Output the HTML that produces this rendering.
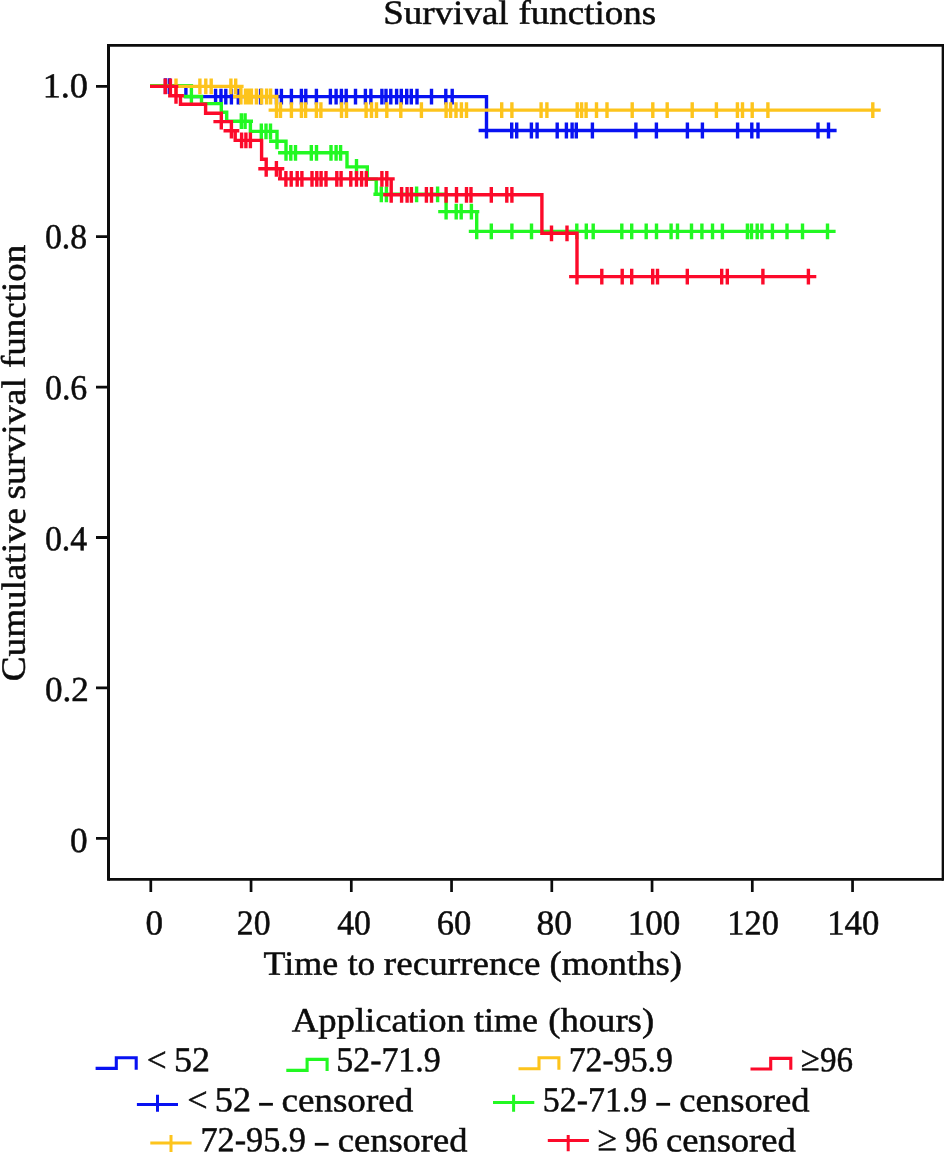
<!DOCTYPE html>
<html><head><meta charset="utf-8"><title>Survival functions</title>
<style>html,body{margin:0;padding:0;background:#fff;}body{width:944px;height:1152px;overflow:hidden;position:relative;font-family:"Liberation Serif",serif;}</style>
</head><body>
<svg width="944" height="1152" viewBox="0 0 944 1152" style="position:absolute;left:0;top:0;display:block">
<rect x="0" y="0" width="944" height="1152" fill="#ffffff"/>
<g fill="none" stroke="#0c0c0c" stroke-linecap="butt">
<path d="M108.5,43.95V880.85M943.15,43.95V880.85" stroke-width="3"/>
<path d="M108.5,45.35H943.15" stroke-width="2.8"/>
<path d="M108.5,879.4H943.15" stroke-width="2.9"/>
<path d="M96,86.3H108.5M96,236.7H108.5M96,387.1H108.5M96,537.5H108.5M96,687.9H108.5M96,838.3H108.5" stroke-width="2.8"/>
<path d="M150.8,879.4V892.1M251.05,879.4V892.1M351.3,879.4V892.1M451.55,879.4V892.1M551.8,879.4V892.1M652.05,879.4V892.1M752.3,879.4V892.1M852.55,879.4V892.1" stroke-width="2.7"/>
</g>
<g fill="none" stroke="#0812f2" stroke-width="3.4" stroke-linejoin="miter" stroke-linecap="butt"><path d="M150,86.2 L185.9,86.2 L185.9,96.6 L486.5,96.6 L486.5,130.5 L836.6,130.5M165.5,78.3V94.1M157.6,86.2H173.4M169.5,78.3V94.1M161.6,86.2H177.4M215.6,88.7V104.5M207.7,96.6H223.5M221,88.7V104.5M213.1,96.6H228.9M225.8,88.7V104.5M217.9,96.6H233.7M231.4,88.7V104.5M223.5,96.6H239.3M238.3,88.7V104.5M230.4,96.6H246.2M260.6,88.7V104.5M252.7,96.6H268.5M276.5,88.7V104.5M268.6,96.6H284.4M281.4,88.7V104.5M273.5,96.6H289.3M291.4,88.7V104.5M283.5,96.6H299.3M301.4,88.7V104.5M293.5,96.6H309.3M305.8,88.7V104.5M297.9,96.6H313.7M316.4,88.7V104.5M308.5,96.6H324.3M330.4,88.7V104.5M322.5,96.6H338.3M336.1,88.7V104.5M328.2,96.6H344M341.4,88.7V104.5M333.5,96.6H349.3M346.2,88.7V104.5M338.3,96.6H354.1M355.5,88.7V104.5M347.6,96.6H363.4M365.4,88.7V104.5M357.5,96.6H373.3M370.9,88.7V104.5M363,96.6H378.8M381.9,88.7V104.5M374,96.6H389.8M386,88.7V104.5M378.1,96.6H393.9M390.8,88.7V104.5M382.9,96.6H398.7M396.6,88.7V104.5M388.7,96.6H404.5M401.3,88.7V104.5M393.4,96.6H409.2M406.7,88.7V104.5M398.8,96.6H414.6M411.3,88.7V104.5M403.4,96.6H419.2M417,88.7V104.5M409.1,96.6H424.9M431.5,88.7V104.5M423.6,96.6H439.4M445.8,88.7V104.5M437.9,96.6H453.7M452.2,88.7V104.5M444.3,96.6H460.1M486.5,122.6V138.4M478.6,130.5H494.4M511.7,122.6V138.4M503.8,130.5H519.6M516.7,122.6V138.4M508.8,130.5H524.6M531.4,122.6V138.4M523.5,130.5H539.3M537.1,122.6V138.4M529.2,130.5H545M557.2,122.6V138.4M549.3,130.5H565.1M566.4,122.6V138.4M558.5,130.5H574.3M572.1,122.6V138.4M564.2,130.5H580M576.3,122.6V138.4M568.4,130.5H584.2M592.4,122.6V138.4M584.5,130.5H600.3M635.9,122.6V138.4M628,130.5H643.8M656.4,122.6V138.4M648.5,130.5H664.3M687.4,122.6V138.4M679.5,130.5H695.3M702.4,122.6V138.4M694.5,130.5H710.3M737.6,122.6V138.4M729.7,130.5H745.5M751.8,122.6V138.4M743.9,130.5H759.7M758,122.6V138.4M750.1,130.5H765.9M818,122.6V138.4M810.1,130.5H825.9M828.5,122.6V138.4M820.6,130.5H836.4"/></g>
<g fill="none" stroke="#22f822" stroke-width="3.4" stroke-linejoin="miter" stroke-linecap="butt"><path d="M150,85.6 L191.4,85.6 L191.4,96.5 L201.5,96.5 L201.5,103.6 L221.3,103.6 L221.3,112.3 L226.7,112.3 L226.7,121.2 L250.4,121.2 L250.4,131.4 L277,131.4 L277,141.3 L286,141.3 L286,152.8 L347,152.8 L347,166.9 L367.3,166.9 L367.3,179.3 L376.2,179.3 L376.2,194.3 L446.1,194.3 L446.1,211.6 L476.7,211.6 L476.7,231.4 L835.6,231.4M191.4,88.6V104.4M183.5,96.5H199.3M241.3,113.3V129.1M233.4,121.2H249.2M245.1,113.3V129.1M237.2,121.2H253M261.3,123.5V139.3M253.4,131.4H269.2M266,123.5V139.3M258.1,131.4H273.9M270.5,123.5V139.3M262.6,131.4H278.4M277,133.4V149.2M269.1,141.3H284.9M286,144.9V160.7M278.1,152.8H293.9M290.8,144.9V160.7M282.9,152.8H298.7M295.5,144.9V160.7M287.6,152.8H303.4M311.3,144.9V160.7M303.4,152.8H319.2M316.5,144.9V160.7M308.6,152.8H324.4M331,144.9V160.7M323.1,152.8H338.9M336.1,144.9V160.7M328.2,152.8H344M340.6,144.9V160.7M332.7,152.8H348.5M356.5,159V174.8M348.6,166.9H364.4M381.3,186.4V202.2M373.4,194.3H389.2M386.4,186.4V202.2M378.5,194.3H394.3M416.6,186.4V202.2M408.7,194.3H424.5M437.6,186.4V202.2M429.7,194.3H445.5M446.1,203.7V219.5M438.2,211.6H454M456.2,203.7V219.5M448.3,211.6H464.1M461.2,203.7V219.5M453.3,211.6H469.1M471.4,203.7V219.5M463.5,211.6H479.3M476.7,223.5V239.3M468.8,231.4H484.6M491.3,223.5V239.3M483.4,231.4H499.2M511.9,223.5V239.3M504,231.4H519.8M531.5,223.5V239.3M523.6,231.4H539.4M576.8,223.5V239.3M568.9,231.4H584.7M586.3,223.5V239.3M578.4,231.4H594.2M593.2,223.5V239.3M585.3,231.4H601.1M621.8,223.5V239.3M613.9,231.4H629.7M631.7,223.5V239.3M623.8,231.4H639.6M646.2,223.5V239.3M638.3,231.4H654.1M656.5,223.5V239.3M648.6,231.4H664.4M671.1,223.5V239.3M663.2,231.4H679M677.5,223.5V239.3M669.6,231.4H685.4M691.5,223.5V239.3M683.6,231.4H699.4M701.9,223.5V239.3M694,231.4H709.8M712.5,223.5V239.3M704.6,231.4H720.4M722.4,223.5V239.3M714.5,231.4H730.3M747.4,223.5V239.3M739.5,231.4H755.3M751.5,223.5V239.3M743.6,231.4H759.4M757.2,223.5V239.3M749.3,231.4H765.1M761.9,223.5V239.3M754,231.4H769.8M772.4,223.5V239.3M764.5,231.4H780.3M787,223.5V239.3M779.1,231.4H794.9M802.5,223.5V239.3M794.6,231.4H810.4M827.5,223.5V239.3M819.6,231.4H835.4"/></g>
<g fill="none" stroke="#fdc41c" stroke-width="3.4" stroke-linejoin="miter" stroke-linecap="butt"><path d="M150,86.4 L240.9,86.4 L240.9,96.5 L276.5,96.5 L276.5,110.1 L880.7,110.1M176,78.5V94.3M168.1,86.4H183.9M199.9,78.5V94.3M192,86.4H207.8M205.8,78.5V94.3M197.9,86.4H213.7M211.2,78.5V94.3M203.3,86.4H219.1M230.9,78.5V94.3M223,86.4H238.8M235.7,78.5V94.3M227.8,86.4H243.6M240.9,88.6V104.4M233,96.5H248.8M245.5,88.6V104.4M237.6,96.5H253.4M247.5,88.6V104.4M239.6,96.5H255.4M249.4,88.6V104.4M241.5,96.5H257.3M251.4,88.6V104.4M243.5,96.5H259.3M256.4,88.6V104.4M248.5,96.5H264.3M261.6,88.6V104.4M253.7,96.5H269.5M266.6,88.6V104.4M258.7,96.5H274.5M270.6,88.6V104.4M262.7,96.5H278.5M276.5,102.2V118M268.6,110.1H284.4M280.5,102.2V118M272.6,110.1H288.4M291.4,102.2V118M283.5,110.1H299.3M301.4,102.2V118M293.5,110.1H309.3M305.6,102.2V118M297.7,110.1H313.5M316.4,102.2V118M308.5,110.1H324.3M320.9,102.2V118M313,110.1H328.8M341.5,102.2V118M333.6,110.1H349.4M346.5,102.2V118M338.6,110.1H354.4M366.1,102.2V118M358.2,110.1H374M371.5,102.2V118M363.6,110.1H379.4M376.5,102.2V118M368.6,110.1H384.4M386.8,102.2V118M378.9,110.1H394.7M400.8,102.2V118M392.9,110.1H408.7M421.4,102.2V118M413.5,110.1H429.3M446.1,102.2V118M438.2,110.1H454M450.6,102.2V118M442.7,110.1H458.5M456,102.2V118M448.1,110.1H463.9M461.4,102.2V118M453.5,110.1H469.3M466.5,102.2V118M458.6,110.1H474.4M501.7,102.2V118M493.8,110.1H509.6M511.9,102.2V118M504,110.1H519.8M541.1,102.2V118M533.2,110.1H549M546.9,102.2V118M539,110.1H554.8M577.2,102.2V118M569.3,110.1H585.1M581.6,102.2V118M573.7,110.1H589.5M586.1,102.2V118M578.2,110.1H594M596.5,102.2V118M588.6,110.1H604.4M607,102.2V118M599.1,110.1H614.9M632.2,102.2V118M624.3,110.1H640.1M652.8,102.2V118M644.9,110.1H660.7M667.2,102.2V118M659.3,110.1H675.1M692.2,102.2V118M684.3,110.1H700.1M716.4,102.2V118M708.5,110.1H724.3M737.4,102.2V118M729.5,110.1H745.3M742.5,102.2V118M734.6,110.1H750.4M752.2,102.2V118M744.3,110.1H760.1M767.9,102.2V118M760,110.1H775.8M872.8,102.2V118M864.9,110.1H880.7"/></g>
<g fill="none" stroke="#fc0a2a" stroke-width="3.4" stroke-linejoin="miter" stroke-linecap="butt"><path d="M150,86.4 L170.4,86.4 L170.4,95.8 L180.5,95.8 L180.5,104.2 L205.6,104.2 L205.6,113.2 L221.3,113.2 L221.3,121.6 L231.4,121.6 L231.4,130.7 L235.2,130.7 L235.2,140.4 L261.6,140.4 L261.6,159.2 L266.2,159.2 L266.2,168.8 L280.2,168.8 L280.2,178.9 L391.2,178.9 L391.2,194.8 L541.9,194.8 L541.9,233.3 L577,233.3 L577,276.6 L816.3,276.6M165.2,78.5V94.3M157.3,86.4H173.1M170.4,78.5V94.3M162.5,86.4H178.3M176,87.9V103.7M168.1,95.8H183.9M221.3,113.7V129.5M213.4,121.6H229.2M231.4,122.8V138.6M223.5,130.7H239.3M241.6,132.5V148.3M233.7,140.4H249.5M245.9,132.5V148.3M238,140.4H253.8M250.4,132.5V148.3M242.5,140.4H258.3M266.2,160.9V176.7M258.3,168.8H274.1M276.4,160.9V176.7M268.5,168.8H284.3M285.9,171V186.8M278,178.9H293.8M291.2,171V186.8M283.3,178.9H299.1M297.2,171V186.8M289.3,178.9H305.1M301.9,171V186.8M294,178.9H309.8M312,171V186.8M304.1,178.9H319.9M316.8,171V186.8M308.9,178.9H324.7M321.1,171V186.8M313.2,178.9H329M326,171V186.8M318.1,178.9H333.9M336.8,171V186.8M328.9,178.9H344.7M341.1,171V186.8M333.2,178.9H349M350.8,171V186.8M342.9,178.9H358.7M356.5,171V186.8M348.6,178.9H364.4M361.6,171V186.8M353.7,178.9H369.5M366.3,171V186.8M358.4,178.9H374.2M381.9,171V186.8M374,178.9H389.8M386.8,171V186.8M378.9,178.9H394.7M391.2,186.9V202.7M383.3,194.8H399.1M401.6,186.9V202.7M393.7,194.8H409.5M407.1,186.9V202.7M399.2,194.8H415M411.4,186.9V202.7M403.5,194.8H419.3M426.4,186.9V202.7M418.5,194.8H434.3M431.5,186.9V202.7M423.6,194.8H439.4M446.1,186.9V202.7M438.2,194.8H454M456.5,186.9V202.7M448.6,194.8H464.4M466.5,186.9V202.7M458.6,194.8H474.4M471,186.9V202.7M463.1,194.8H478.9M491.3,186.9V202.7M483.4,194.8H499.2M506.8,186.9V202.7M498.9,194.8H514.7M511.9,186.9V202.7M504,194.8H519.8M551.5,225.4V241.2M543.6,233.3H559.4M567,225.4V241.2M559.1,233.3H574.9M577,268.7V284.5M569.1,276.6H584.9M601.8,268.7V284.5M593.9,276.6H609.7M622.2,268.7V284.5M614.3,276.6H630.1M631.7,268.7V284.5M623.8,276.6H639.6M652.7,268.7V284.5M644.8,276.6H660.6M657.5,268.7V284.5M649.6,276.6H665.4M687.3,268.7V284.5M679.4,276.6H695.2M721.7,268.7V284.5M713.8,276.6H729.6M727.3,268.7V284.5M719.4,276.6H735.2M762.9,268.7V284.5M755,276.6H770.8M808.4,268.7V284.5M800.5,276.6H816.3"/></g>
<path d="M95.6,1068.4H116.3V1057.8H136.2V1069.8" fill="none" stroke="#0812f2" stroke-width="3.1"/>
<path d="M286.3,1070.4H307.1V1059.4H327.1V1071" fill="none" stroke="#22f822" stroke-width="3.1"/>
<path d="M518.5,1068.8H539V1057.8H558.9V1069.8" fill="none" stroke="#fdc41c" stroke-width="3.1"/>
<path d="M750.5,1069.0H770.7V1058.4H790.8V1069.8" fill="none" stroke="#fc0a2a" stroke-width="3.1"/>
<path d="M136.9,1104.55H178M157.5,1094.7V1111.7" fill="none" stroke="#0812f2" stroke-width="3.0"/>
<path d="M493,1102.5H534.3M513.6,1094.85V1111.7" fill="none" stroke="#22f822" stroke-width="3.0"/>
<path d="M150.3,1142.9H191.6M171,1134.9V1152" fill="none" stroke="#fdc41c" stroke-width="3.0"/>
<path d="M547.8,1140.4H588.9M568.2,1134.9V1151.2" fill="none" stroke="#fc0a2a" stroke-width="3.0"/>
<g style="opacity:0.999" text-rendering="geometricPrecision" font-family="'Liberation Serif', serif" font-size="35" fill="#0c0c0c" stroke="#0c0c0c" stroke-width="0.5">
<text font-size="34" transform="rotate(0.03 383.22 23.85)" x="383.22" y="23.85" textLength="125.39" lengthAdjust="spacingAndGlyphs">Survival</text>
<text font-size="34" transform="rotate(0.03 518.48 23.85)" x="518.48" y="23.85" textLength="137.55" lengthAdjust="spacingAndGlyphs">functions</text>
<text transform="rotate(0.03 42.65 97.3)" x="42.65" y="97.3" textLength="45.28" lengthAdjust="spacingAndGlyphs">1.0</text>
<text transform="rotate(0.03 44.94 248.25)" x="44.94" y="248.25" textLength="42.13" lengthAdjust="spacingAndGlyphs">0.8</text>
<text transform="rotate(0.03 44.93 399.2)" x="44.93" y="399.2" textLength="42.4" lengthAdjust="spacingAndGlyphs">0.6</text>
<text transform="rotate(0.03 44.93 550.15)" x="44.93" y="550.15" textLength="42.31" lengthAdjust="spacingAndGlyphs">0.4</text>
<text transform="rotate(0.03 44.9 701.1)" x="44.9" y="701.1" textLength="43.86" lengthAdjust="spacingAndGlyphs">0.2</text>
<text transform="rotate(0.03 69.99 852.05)" x="69.99" y="852.05" textLength="17.61" lengthAdjust="spacingAndGlyphs">0</text>
<text transform="rotate(0.03 145.5 934.5)" x="145.5" y="934.5" textLength="17.5" lengthAdjust="spacingAndGlyphs">0</text>
<text transform="rotate(0.03 236.8 934.5)" x="236.8" y="934.5" textLength="33.66" lengthAdjust="spacingAndGlyphs">20</text>
<text transform="rotate(0.03 337.22 934.5)" x="337.22" y="934.5" textLength="33.75" lengthAdjust="spacingAndGlyphs">40</text>
<text transform="rotate(0.03 436.77 934.5)" x="436.77" y="934.5" textLength="34.52" lengthAdjust="spacingAndGlyphs">60</text>
<text transform="rotate(0.03 536.58 934.5)" x="536.58" y="934.5" textLength="35.53" lengthAdjust="spacingAndGlyphs">80</text>
<text transform="rotate(0.03 627.65 934.5)" x="627.65" y="934.5" textLength="52.55" lengthAdjust="spacingAndGlyphs">100</text>
<text transform="rotate(0.03 727.3 934.5)" x="727.3" y="934.5" textLength="51.58" lengthAdjust="spacingAndGlyphs">120</text>
<text transform="rotate(0.03 827.28 934.5)" x="827.28" y="934.5" textLength="52.02" lengthAdjust="spacingAndGlyphs">140</text>
<text font-size="34" transform="rotate(0.03 263.64 974.75)" x="263.64" y="974.75" textLength="74.49" lengthAdjust="spacingAndGlyphs">Time</text>
<text font-size="34" transform="rotate(0.03 347.8 974.75)" x="347.8" y="974.75" textLength="27.49" lengthAdjust="spacingAndGlyphs">to</text>
<text font-size="34" transform="rotate(0.03 383.85 974.75)" x="383.85" y="974.75" textLength="156.65" lengthAdjust="spacingAndGlyphs">recurrence</text>
<text font-size="34" transform="rotate(0.03 549.55 974.75)" x="549.55" y="974.75" textLength="132.43" lengthAdjust="spacingAndGlyphs">(months)</text>
<text font-size="34" transform="translate(24.85,679.8) rotate(-89.97)" x="-1.36" y="0" textLength="173.15" lengthAdjust="spacingAndGlyphs">Cumulative</text>
<text font-size="34" transform="translate(24.85,498.2) rotate(-89.97)" x="-1.39" y="0" textLength="121.49" lengthAdjust="spacingAndGlyphs">survival</text>
<text font-size="34" transform="translate(24.85,367.2) rotate(-89.97)" x="-0.82" y="0" textLength="123.15" lengthAdjust="spacingAndGlyphs">function</text>
<text font-size="34" transform="rotate(0.03 291.7 1031.45)" x="291.7" y="1031.45" textLength="173.3" lengthAdjust="spacingAndGlyphs">Application</text>
<text font-size="34" transform="rotate(0.03 474.1 1031.45)" x="474.1" y="1031.45" textLength="63.89" lengthAdjust="spacingAndGlyphs">time</text>
<text font-size="34" transform="rotate(0.03 548.25 1031.45)" x="548.25" y="1031.45" textLength="105.84" lengthAdjust="spacingAndGlyphs">(hours)</text>
<text transform="rotate(0.03 146.79 1071.45)" x="146.79" y="1071.45" textLength="19.93" lengthAdjust="spacingAndGlyphs">&lt;</text>
<text transform="rotate(0.03 173.9 1071.25)" x="173.9" y="1071.25" textLength="36" lengthAdjust="spacingAndGlyphs">52</text>
<text transform="rotate(0.03 336.31 1071.25)" x="336.31" y="1071.25" textLength="104.41" lengthAdjust="spacingAndGlyphs">52-71.9</text>
<text transform="rotate(0.03 568.67 1071.25)" x="568.67" y="1071.25" textLength="104.25" lengthAdjust="spacingAndGlyphs">72-95.9</text>
<text transform="rotate(0.03 800.67 1070.3)" x="800.67" y="1070.3" textLength="18.93" lengthAdjust="spacingAndGlyphs">≥</text>
<text transform="rotate(0.03 819.96 1071.25)" x="819.96" y="1071.25" textLength="33.05" lengthAdjust="spacingAndGlyphs">96</text>
<text transform="rotate(0.03 187.35 1111.45)" x="187.35" y="1111.45" textLength="20.4" lengthAdjust="spacingAndGlyphs">&lt;</text>
<text transform="rotate(0.03 214.79 1111.25)" x="214.79" y="1111.25" textLength="36.22" lengthAdjust="spacingAndGlyphs">52</text>
<text font-size="34" transform="rotate(0.03 281.41 1111.45)" x="281.41" y="1111.45" textLength="131.88" lengthAdjust="spacingAndGlyphs">censored</text>
<text transform="rotate(0.03 542.8 1111.25)" x="542.8" y="1111.25" textLength="104.51" lengthAdjust="spacingAndGlyphs">52-71.9</text>
<text font-size="34" transform="rotate(0.03 679.32 1111.45)" x="679.32" y="1111.45" textLength="130.16" lengthAdjust="spacingAndGlyphs">censored</text>
<text transform="rotate(0.03 200.44 1151.25)" x="200.44" y="1151.25" textLength="105.49" lengthAdjust="spacingAndGlyphs">72-95.9</text>
<text font-size="34" transform="rotate(0.03 337.83 1151.45)" x="337.83" y="1151.45" textLength="129.56" lengthAdjust="spacingAndGlyphs">censored</text>
<text transform="rotate(0.03 597.64 1150.3)" x="597.64" y="1150.3" textLength="19.39" lengthAdjust="spacingAndGlyphs">≥</text>
<text transform="rotate(0.03 625.06 1151.25)" x="625.06" y="1151.25" textLength="32.84" lengthAdjust="spacingAndGlyphs">96</text>
<text font-size="34" transform="rotate(0.03 665.93 1151.45)" x="665.93" y="1151.45" textLength="129.86" lengthAdjust="spacingAndGlyphs">censored</text>
</g>
<rect x="259.1" y="1102.9" width="13.8" height="2.8" fill="#0c0c0c"/>
<rect x="656.3" y="1102.9" width="13.8" height="2.8" fill="#0c0c0c"/>
<rect x="314.8" y="1142.9" width="13.8" height="2.8" fill="#0c0c0c"/>
</svg>
</body></html>
